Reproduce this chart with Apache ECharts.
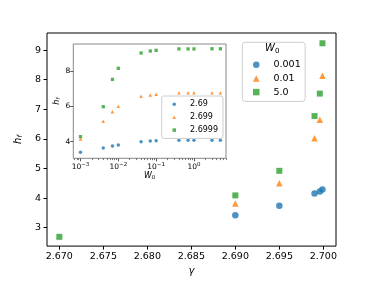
<!DOCTYPE html>
<html><head><meta charset="utf-8">
<script src="https://cdn.jsdelivr.net/npm/echarts@6/dist/echarts.min.js"></script>
<style>html,body{margin:0;padding:0;background:#fff}#c{width:374px;height:281px}</style>
</head><body><div id="c"></div>
<script>
// ---- main panel data (gamma vs h_f, one series per W0) ----
const gammaW001 = [2.690, 2.695, 2.699, 2.6996, 2.6999];
const hW001     = [3.42, 3.74, 4.15, 4.22, 4.29];
const gammaW01  = [2.690, 2.695, 2.699, 2.6996, 2.6999];
const hW01      = [3.82, 4.50, 6.02, 6.65, 8.13];
const gammaW5   = [2.670, 2.690, 2.695, 2.699, 2.6996, 2.6999];
const hW5       = [2.69, 4.09, 4.92, 6.77, 7.53, 9.23];
const mainNames = ['0.001', '0.01', '5.0'];
const xTicks = [2.670, 2.675, 2.680, 2.685, 2.690, 2.695, 2.700];
const yTicks = [3, 4, 5, 6, 7, 8, 9];

// ---- inset data (W0 vs h_f, one series per gamma) ----
const w0       = [0.001, 0.004, 0.007, 0.01, 0.04, 0.07, 0.1, 0.4, 0.7, 1, 3, 5];
const hG269    = [3.40, 3.64, 3.76, 3.81, 4.00, 4.04, 4.06, 4.08, 4.08, 4.08, 4.08, 4.08];
const hG2699   = [4.15, 5.16, 5.71, 6.01, 6.58, 6.65, 6.69, 6.78, 6.78, 6.78, 6.78, 6.78];
const hG26999  = [4.29, 5.99, 7.54, 8.17, 9.04, 9.15, 9.19, 9.27, 9.27, 9.27, 9.28, 9.28];
const insetNames = ['2.69', '2.699', '2.6999'];
const insetYTicks = [4, 6, 8];
const insetMinorTicks = [0.0007, 0.0008, 0.0009,
  0.002, 0.003, 0.004, 0.005, 0.006, 0.007, 0.008, 0.009,
  0.02, 0.03, 0.04, 0.05, 0.06, 0.07, 0.08, 0.09,
  0.2, 0.3, 0.4, 0.5, 0.6, 0.7, 0.8, 0.9,
  2, 3, 4, 5, 6, 7];

const C = ['#1f77b4', '#ff7f0e', '#2ca02c'];
const FONT = 'DejaVu Sans';
const pairs = (xs, ys) => xs.map((x, i) => [x, ys[i]]);

const chart = echarts.init(document.getElementById('c'), null, {renderer: 'canvas'});

const supLabel = v => {
  const e = Math.log10(v), r = Math.round(e);
  if (Math.abs(e - r) > 1e-6) return '';
  return '{b|10}{s|' + (r < 0 ? '\u2212' + (-r) : String(r)) + '}';
};

chart.setOption({
  animation: false,
  textStyle: {fontFamily: FONT},
  grid: [
    {left: 47, top: 33, width: 289, height: 216, show: true, borderColor: '#000', borderWidth: 1, backgroundColor: 'transparent', z: 0},
    {left: 73.3, top: 44, width: 152.7, height: 114.3, show: true, borderColor: '#888', borderWidth: 1, backgroundColor: '#fff', z: 5}
  ],
  xAxis: [
    {type: 'value', gridIndex: 0, min: 2.6686, max: 2.70144,
     axisLine: {show: false}, splitLine: {show: false},
     axisTick: {length: 3.5, lineStyle: {color: '#000'}, customValues: xTicks},
     axisLabel: {color: '#000', fontSize: 9.5, fontFamily: FONT, margin: 5, customValues: xTicks,
                 formatter: v => v.toFixed(3)},
     name: 'γ', nameLocation: 'middle', nameGap: 16,
     nameTextStyle: {fontStyle: 'italic', fontSize: 10, color: '#000', fontFamily: FONT}},
    {type: 'log', logBase: 10, gridIndex: 1, min: 0.000646, max: 7.03, z: 6,
     axisLine: {show: false}, splitLine: {show: false},
     axisTick: {length: 3, lineStyle: {color: '#555'}},
     axisLabel: {color: '#000', margin: 3, formatter: supLabel, showMinLabel: false, showMaxLabel: false,
                 rich: {b: {fontSize: 7.5, fontFamily: FONT, lineHeight: 11, color: '#000'},
                        s: {fontSize: 5.5, fontFamily: FONT, lineHeight: 6, verticalAlign: 'top', color: '#000'}}},
     name: '{i|W}{s|0}', nameLocation: 'middle', nameGap: 12,
     nameTextStyle: {rich: {i: {fontStyle: 'italic', fontSize: 8, lineHeight: 10, fontFamily: FONT, color: '#000'},
                            s: {fontSize: 5.5, lineHeight: 6, verticalAlign: 'bottom', fontFamily: FONT, color: '#000'}}}},
    {type: 'log', logBase: 10, gridIndex: 1, min: 0.000646, max: 7.03, z: 6, position: 'bottom',
     axisLine: {show: false}, splitLine: {show: false},
     axisTick: {length: 1.8, lineStyle: {color: '#555', width: 0.8}, customValues: insetMinorTicks},
     axisLabel: {show: false}}
  ],
  yAxis: [
    {type: 'value', gridIndex: 0, min: 2.377, max: 9.577,
     axisLine: {show: false}, splitLine: {show: false},
     axisTick: {length: 3.5, lineStyle: {color: '#000'}, customValues: yTicks},
     axisLabel: {color: '#000', fontSize: 9.5, fontFamily: FONT, margin: 6, customValues: yTicks},
     name: '{i|h}{s|f}', nameLocation: 'middle', nameGap: 12,
     nameTextStyle: {rich: {i: {fontStyle: 'italic', fontSize: 10, lineHeight: 12, fontFamily: FONT, color: '#000'},
                            s: {fontStyle: 'italic', fontSize: 7, lineHeight: 7, verticalAlign: 'bottom', fontFamily: FONT, color: '#000'}}}},
    {type: 'value', gridIndex: 1, min: 3.06, max: 9.55, z: 6,
     axisLine: {show: false}, splitLine: {show: false},
     axisTick: {length: 3, lineStyle: {color: '#555'}, customValues: insetYTicks},
     axisLabel: {color: '#000', fontSize: 7.5, fontFamily: FONT, margin: 3, customValues: insetYTicks},
     name: '{i|h}{s|f}', nameLocation: 'middle', nameGap: 9,
     nameTextStyle: {rich: {i: {fontStyle: 'italic', fontSize: 8, lineHeight: 10, fontFamily: FONT, color: '#000'},
                            s: {fontStyle: 'italic', fontSize: 5.5, lineHeight: 6, verticalAlign: 'bottom', fontFamily: FONT, color: '#000'}}}}
  ],
  legend: [
    {orient: 'vertical', left: 242.3, top: 42.3, padding: [17.4, 4.5, 4.3, 10.7],
     itemWidth: 6.5, itemHeight: 6.5, itemGap: 3.7,
     backgroundColor: 'rgba(255,255,255,0.8)', borderColor: '#ccc', borderWidth: 1, borderRadius: 3,
     textStyle: {fontSize: 9.5, lineHeight: 10, color: '#000', fontFamily: FONT, padding: [0, 0, 0, 9]},
     data: [{name: mainNames[0], icon: 'circle'}, {name: mainNames[1], icon: 'triangle'}, {name: mainNames[2], icon: 'rect'}]},
    {orient: 'vertical', left: 161.7, top: 96, padding: [4.3, 5, 4.3, 10.8], z: 8,
     itemWidth: 3.5, itemHeight: 3.5, itemGap: 4.9,
     backgroundColor: 'rgba(255,255,255,0.8)', borderColor: '#ccc', borderWidth: 1, borderRadius: 2,
     textStyle: {fontSize: 8, lineHeight: 8, color: '#000', fontFamily: FONT, padding: [0, 0, 0, 9]},
     data: [{name: insetNames[0], icon: 'circle'}, {name: insetNames[1], icon: 'triangle'}, {name: insetNames[2], icon: 'rect'}]}
  ],
  graphic: [
    {type: 'text', left: 265, top: 43.5, z: 10,
     style: {text: '{i|W}{s|0}', rich: {i: {fontStyle: 'italic', fontSize: 10, lineHeight: 12, fontFamily: FONT, fill: '#000'},
                                        s: {fontSize: 7, lineHeight: 7, verticalAlign: 'bottom', fontFamily: FONT, fill: '#000'}}}}
  ],
  series: [
    {type: 'scatter', name: mainNames[0], xAxisIndex: 0, yAxisIndex: 0, symbol: 'circle', symbolSize: 6.5, itemStyle: {color: C[0]}, data: pairs(gammaW001, hW001)},
    {type: 'scatter', name: mainNames[1], xAxisIndex: 0, yAxisIndex: 0, symbol: 'triangle', symbolSize: 6.5, itemStyle: {color: C[1]}, data: pairs(gammaW01, hW01)},
    {type: 'scatter', name: mainNames[2], xAxisIndex: 0, yAxisIndex: 0, symbol: 'rect', symbolSize: 6, itemStyle: {color: C[2]}, data: pairs(gammaW5, hW5)},
    {type: 'scatter', name: insetNames[0], xAxisIndex: 1, yAxisIndex: 1, z: 7, symbol: 'circle', symbolSize: 3.5, itemStyle: {color: C[0]}, data: pairs(w0, hG269)},
    {type: 'scatter', name: insetNames[1], xAxisIndex: 1, yAxisIndex: 1, z: 7, symbol: 'triangle', symbolSize: 3.5, itemStyle: {color: C[1]}, data: pairs(w0, hG2699)},
    {type: 'scatter', name: insetNames[2], xAxisIndex: 1, yAxisIndex: 1, z: 7, symbol: 'rect', symbolSize: 3.3, itemStyle: {color: C[2]}, data: pairs(w0, hG26999)}
  ]
});
</script></body></html>
